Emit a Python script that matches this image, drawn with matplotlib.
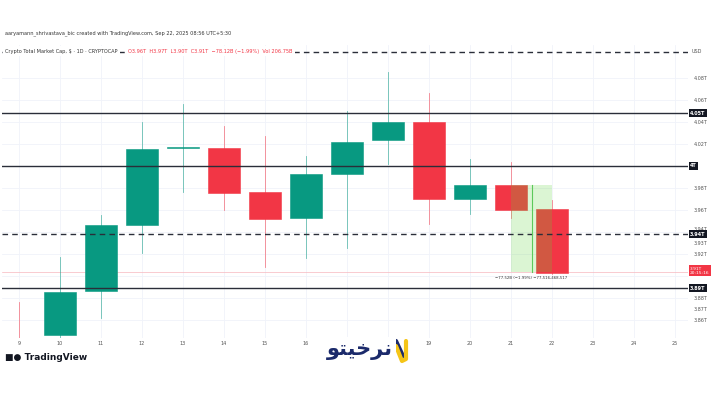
import matplotlib.pyplot as plt
from matplotlib.patches import Rectangle
from matplotlib.lines import Line2D

# dagelijkse candles (waarden in biljoen USD)
days = [9, 10, 11, 12, 13, 14, 15, 16, 17, 18, 19, 20, 21, 22]
opens = [3.840, 3.846, 3.886, 3.946, 4.016, 4.016, 3.976, 3.953, 3.993, 4.024, 4.040, 3.970, 3.983, 3.961]
highs = [3.876, 3.917, 3.955, 4.040, 4.056, 4.036, 4.027, 4.009, 4.050, 4.085, 4.066, 4.006, 4.004, 3.969]
lows = [3.820, 3.844, 3.862, 3.921, 3.976, 3.960, 3.908, 3.916, 3.925, 4.002, 3.947, 3.956, 3.953, 3.902]
closes = [3.830, 3.885, 3.946, 4.015, 4.017, 3.975, 3.952, 3.993, 4.022, 4.040, 3.970, 3.983, 3.960, 3.903]

# horizontale niveaus
solid_levels = [4.048, 4.000, 3.889]
solid_labels = ['4.05T', '4T', '3.89T']
dashed_levels = [4.104, 3.938]
dashed_labels = ['', '3.94T']

price_ticks = [4.08, 4.06, 4.04, 4.02, 3.98, 3.96, 3.943, 3.93, 3.92, 3.88, 3.87, 3.86]
price_tick_labels = ['4.08T', '4.06T', '4.04T', '4.02T', '3.98T', '3.96T', '3.94T',
                     '3.93T', '3.92T', '3.88T', '3.87T', '3.86T']
x_ticks = [9, 10, 11, 12, 13, 14, 15, 16, 17, 18, 19, 20, 21, 22, 23, 24, 25]
x_tick_labels = ['9', '10', '11', '12', '13', '14', '15', '16', '', '',
                 '19', '20', '21', '22', '23', '24', '25']

last_price = 3.9036
measure_top = 3.9827

green = '#089981'
red = '#f23645'

fig = plt.figure(figsize=(7.19, 4.05), dpi=100)
ax = fig.add_axes([2 / 719, 1 - 338 / 405, 686 / 719, 293 / 405])
ax.set_xlim(8.585, 25.317)
ax.set_ylim(3.8436, 4.110)

# grid
for d in x_ticks:
    ax.axvline(d, color='#f0f3fa', lw=0.6, zorder=0)
for v in [4.08, 4.06, 4.04, 4.02, 4.00, 3.98, 3.96, 3.94, 3.92, 3.90, 3.88, 3.86]:
    ax.axhline(v, color='#f0f3fa', lw=0.6, zorder=0)

# candles
w = 0.78
for d, o, h, l, c in zip(days, opens, highs, lows, closes):
    col = green if c >= o else red
    ax.plot([d, d], [l, h], color=col, lw=0.6, alpha=0.6, zorder=2)
    lo, hi = min(o, c), max(o, c)
    ax.add_patch(Rectangle((d - w / 2, lo), w, max(hi - lo, 0.0008),
                           facecolor=col, edgecolor=col, lw=0.4, zorder=3))

# meet-gereedschap
ax.add_patch(Rectangle((21, last_price), 1, measure_top - last_price,
                       facecolor='#5dd33a', alpha=0.22, edgecolor='none', zorder=4))
ax.plot([21.5, 21.5], [last_price, measure_top], color='#5cc95a', lw=0.8, zorder=5)
ax.text(21.5, last_price - 0.0055, '\u221277.52B (\u22121.99%) \u221277,516,468,517',
        fontsize=2.8, color='#333333', ha='center', va='center', zorder=6)

# huidige prijslijn
ax.axhline(last_price, color='#f7b7bd', lw=0.5, zorder=1)

# niveaus
for v in solid_levels:
    ax.axhline(v, color='#2a2e39', lw=1.0, zorder=4)
for v in dashed_levels:
    ax.axhline(v, color='#2a2e39', lw=1.0, ls=(0, (4, 3)), zorder=4)

for s in ax.spines.values():
    s.set_visible(False)
ax.set_xticks(x_ticks)
ax.set_xticklabels(x_tick_labels, fontsize=3.5, color='#555555')
ax.tick_params(axis='x', length=0, pad=2)
ax.yaxis.tick_right()
ax.set_yticks(price_ticks)
ax.set_yticklabels(price_tick_labels, fontsize=3.5, color='#555555')
ax.tick_params(axis='y', length=0, pad=4)

# labels rechts
for v, t in zip(solid_levels + dashed_levels, solid_labels + dashed_labels):
    if t:
        ax.text(1.003, v, t, transform=ax.get_yaxis_transform(), fontsize=3.5,
                color='white', ha='left', va='center', fontweight='bold',
                bbox=dict(boxstyle='square,pad=0.3', fc='#131722', ec='none'), zorder=7)
ax.text(1.003, last_price + 0.001, '3.91T\n20:15:16', transform=ax.get_yaxis_transform(),
        fontsize=3.2, color='white', ha='left', va='center', linespacing=1.1,
        bbox=dict(boxstyle='square,pad=0.3', fc=red, ec='none'), zorder=7)
ax.text(1.005, 4.104, 'USD', transform=ax.get_yaxis_transform(), fontsize=3.5,
        color='#555555', ha='left', va='center')

# kop
fig.text(5 / 719, 1 - 33 / 405,
         'aaryamann_shrivastava_bic created with TradingView.com, Sep 22, 2025 08:56 UTC+5:30',
         fontsize=3.6, color='#333333', va='center')
fig.text(5 / 719, 1 - 51 / 405, 'Crypto Total Market Cap, $ \u00b7 1D \u00b7 CRYPTOCAP',
         fontsize=3.6, color='#333333', va='center',
         bbox=dict(fc='white', ec='none', pad=1.5), zorder=10)
fig.text(128 / 719, 1 - 51 / 405,
         'O3.96T  H3.97T  L3.90T  C3.91T  \u221278.12B (\u22121.99%)  Vol 206.75B',
         fontsize=3.6, color=red, va='center',
         bbox=dict(fc='white', ec='none', pad=1.5), zorder=10)

# voet
fig.text(5 / 719, 1 - 358 / 405, '\u25a0\u25cf TradingView', fontsize=6.5,
         color='#131722', fontweight='bold', va='center')
fig.text(360 / 719, 1 - 350 / 405, '\ufeee\ufe98\ufef4\ufea7\ufeae\ufee7', fontsize=15,
         color='#1b2a6b', fontweight='bold', va='center', ha='center',
         family=['DejaVu Sans'],
         bbox=dict(fc='white', ec='none', pad=2))
# N-logo
fig.add_artist(Line2D([390 / 719, 390 / 719, 396 / 719, 403 / 719],
                      [1 - 360 / 405, 1 - 343 / 405, 1 - 341 / 405, 1 - 356 / 405],
                      color='#1b2a6b', lw=3, solid_capstyle='round', solid_joinstyle='round'))
fig.add_artist(Line2D([396 / 719, 402 / 719, 406 / 719, 406 / 719],
                      [1 - 346 / 405, 1 - 361 / 405, 1 - 359 / 405, 1 - 341 / 405],
                      color='#f5c518', lw=3, solid_capstyle='round', solid_joinstyle='round'))

fig.savefig('out.png', dpi=100)
